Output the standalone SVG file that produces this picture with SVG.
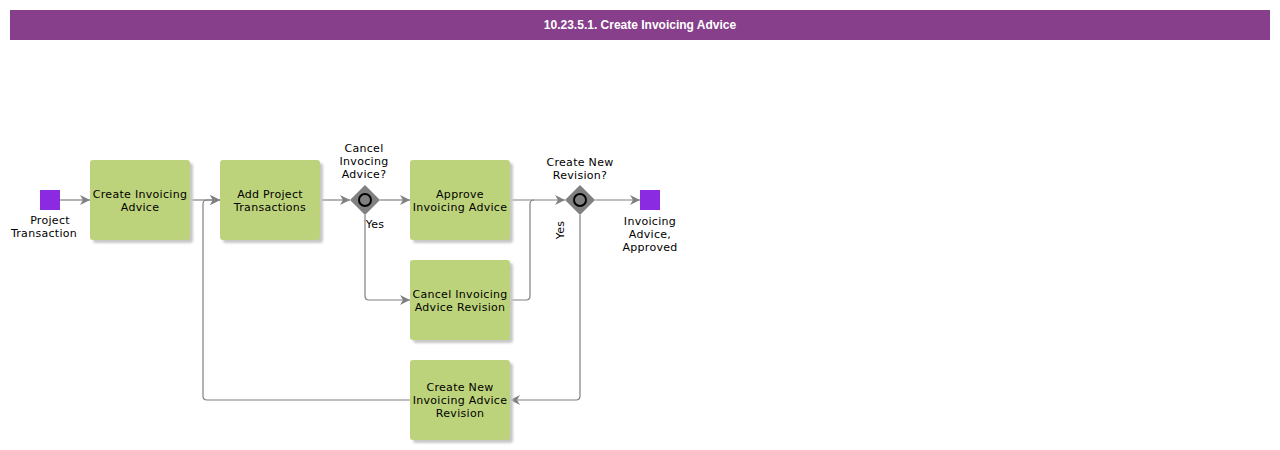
<svg xmlns="http://www.w3.org/2000/svg" width="1280" height="450" viewBox="0 0 1280 450">
<style>
.t{font-family:"DejaVu Sans",Verdana,sans-serif;font-size:11px;letter-spacing:0.3px;fill:#000;text-anchor:middle}
.task{fill:#bdd37b}
.sh{fill:#c8c8c8}
.ev{fill:#8a2be2}
.c{fill:none;stroke:#808080;stroke-width:1.2}
.gw{fill:#808080}
.gc{fill:none;stroke:#000;stroke-width:2}
</style>
<defs>
<marker id="ah" viewBox="0 0 10 10" refX="10" refY="5" markerWidth="10" markerHeight="10" markerUnits="userSpaceOnUse" orient="auto">
<path d="M0,0 L10,5 L0,10 L3,5 Z" fill="#808080"/>
</marker>
<filter id="blur" x="-10%" y="-10%" width="130%" height="130%"><feGaussianBlur stdDeviation="1.2"/></filter>
</defs>
<rect width="1280" height="450" fill="#fff"/>
<g id="header">
<rect x="10" y="10" width="1260" height="30" fill="#873f8b"/>
<text x="640" y="29" style="font-family:'Liberation Sans',Arial,sans-serif;font-size:12px;font-weight:bold;fill:#fff;text-anchor:middle">10.23.5.1. Create Invoicing Advice</text>
</g>
<g id="connectors">
<path class="c" d="M60,200 H90" marker-end="url(#ah)"/>
<path class="c" d="M190,200 H220" marker-end="url(#ah)"/>
<path class="c" d="M320,200 H350" marker-end="url(#ah)"/>
<path class="c" d="M380,200 H410" marker-end="url(#ah)"/>
<path class="c" d="M365,215 V296 Q365,300 369,300 H410" marker-end="url(#ah)"/>
<path class="c" d="M510,300 H526 Q530,300 530,296 V204 Q530,200 534,200"/>
<path class="c" d="M510,200 H565" marker-end="url(#ah)"/>
<path class="c" d="M595,200 H640" marker-end="url(#ah)"/>
<path class="c" d="M580,215 V396 Q580,400 576,400 H510" marker-end="url(#ah)"/>
<path class="c" d="M410,400 H207 Q203,400 203,396 V204 Q203,200 207,200 H220" marker-end="url(#ah)"/>
<text class="t" x="375" y="228">Yes</text>
<text class="t" transform="translate(564,230) rotate(-90)">Yes</text>
</g>
<g id="start">
<rect class="ev" x="40" y="190" width="20" height="20"/>
<text class="t" x="50" y="224">Project</text>
<text class="t" x="44" y="237">Transaction</text>
</g>
<g id="task1">
<rect class="sh" x="93" y="163" width="100" height="80" rx="3" filter="url(#blur)"/>
<rect class="task" x="90" y="160" width="100" height="80" rx="3"/>
<text class="t" x="140" y="198">Create Invoicing</text>
<text class="t" x="140" y="211">Advice</text>
</g>
<g id="task2">
<rect class="sh" x="223" y="163" width="100" height="80" rx="3" filter="url(#blur)"/>
<rect class="task" x="220" y="160" width="100" height="80" rx="3"/>
<text class="t" x="270" y="198">Add Project</text>
<text class="t" x="270" y="211">Transactions</text>
</g>
<g id="gateway1">
<path class="gw" d="M365,185 L380,200 L365,215 L350,200 Z"/>
<circle class="gc" cx="365" cy="200" r="6"/>
<text class="t" x="364" y="152">Cancel</text>
<text class="t" x="364" y="165">Invocing</text>
<text class="t" x="364" y="178">Advice?</text>
</g>
<g id="task3">
<rect class="sh" x="413" y="163" width="100" height="80" rx="3" filter="url(#blur)"/>
<rect class="task" x="410" y="160" width="100" height="80" rx="3"/>
<text class="t" x="460" y="198">Approve</text>
<text class="t" x="460" y="211">Invoicing Advice</text>
</g>
<g id="task4">
<rect class="sh" x="413" y="263" width="100" height="80" rx="3" filter="url(#blur)"/>
<rect class="task" x="410" y="260" width="100" height="80" rx="3"/>
<text class="t" x="460" y="298">Cancel Invoicing</text>
<text class="t" x="460" y="311">Advice Revision</text>
</g>
<g id="task5">
<rect class="sh" x="413" y="363" width="100" height="80" rx="3" filter="url(#blur)"/>
<rect class="task" x="410" y="360" width="100" height="80" rx="3"/>
<text class="t" x="460" y="391">Create New</text>
<text class="t" x="460" y="404">Invoicing Advice</text>
<text class="t" x="460" y="417">Revision</text>
</g>
<g id="gateway2">
<path class="gw" d="M580,185 L595,200 L580,215 L565,200 Z"/>
<circle class="gc" cx="580" cy="200" r="6"/>
<text class="t" x="580" y="166">Create New</text>
<text class="t" x="580" y="179">Revision?</text>
</g>
<g id="end">
<rect class="ev" x="640" y="190" width="20" height="20"/>
<text class="t" x="650" y="225">Invoicing</text>
<text class="t" x="650" y="238">Advice,</text>
<text class="t" x="650" y="251">Approved</text>
</g>
</svg>
